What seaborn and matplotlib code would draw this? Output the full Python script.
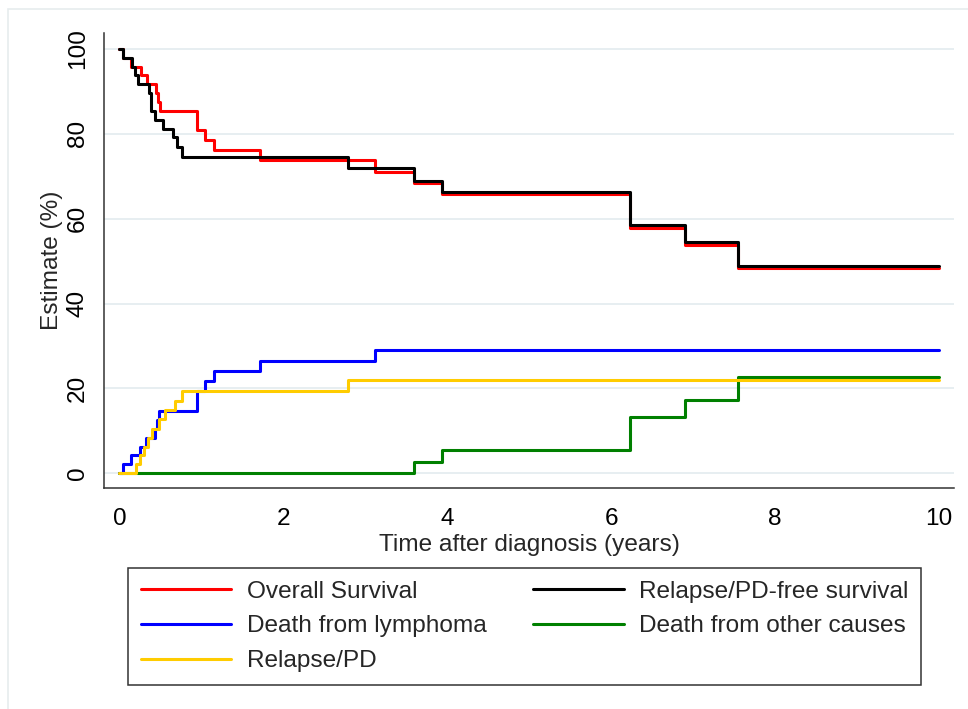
import numpy as np
import pandas as pd
import matplotlib
matplotlib.use("Agg")
import matplotlib.pyplot as plt
from matplotlib.lines import Line2D
from matplotlib.patches import Rectangle
import seaborn as sns

# ---------------- data ----------------
os_time = [0, 0.04, 0.14, 0.26, 0.34, 0.45, 0.47, 0.49, 0.95, 1.05, 1.16, 1.71, 3.12, 3.60, 3.94, 6.23, 6.90, 7.55, 10.0]
os_est = [100, 97.9, 95.8, 93.8, 91.7, 89.6, 87.5, 85.4, 80.9, 78.6, 76.2, 73.8, 71.1, 68.4, 65.8, 57.9, 53.7, 48.4, 48.4]

rfs_time = [0, 0.04, 0.15, 0.19, 0.23, 0.36, 0.39, 0.43, 0.53, 0.65, 0.70, 0.77, 2.79, 3.60, 3.94, 6.23, 6.90, 7.55, 10.0]
rfs_est = [100, 97.9, 95.8, 93.8, 91.7, 89.6, 85.4, 83.3, 81.2, 79.2, 76.9, 74.6, 71.9, 68.9, 66.4, 58.6, 54.4, 48.8, 48.8]

lymph_time = [0, 0.05, 0.14, 0.25, 0.33, 0.44, 0.46, 0.48, 0.95, 1.05, 1.16, 1.71, 3.12, 10.0]
lymph_est = [0, 2.1, 4.2, 6.2, 8.3, 10.4, 12.5, 14.7, 19.3, 21.8, 24.0, 26.4, 29.0, 29.0]

other_time = [0, 3.60, 3.94, 6.23, 6.90, 7.55, 10.0]
other_est = [0, 2.7, 5.5, 13.2, 17.3, 22.7, 22.7]

relapse_time = [0, 0.20, 0.25, 0.30, 0.35, 0.40, 0.48, 0.56, 0.68, 0.77, 2.79, 10.0]
relapse_est = [0, 2.1, 4.2, 6.3, 8.4, 10.5, 12.7, 14.8, 17.0, 19.4, 22.0, 22.0]

labels = ["Overall Survival", "Relapse/PD-free survival", "Death from lymphoma",
          "Death from other causes", "Relapse/PD"]
colors = ["#ff0000", "#000000", "#0000ff", "#008000", "#ffcc00"]

x_ticks = [0, 2, 4, 6, 8, 10]
y_ticks = [0, 20, 40, 60, 80, 100]
x_label = "Time after diagnosis (years)"
y_label = "Estimate (%)"

# ---------------- long table ----------------
series = [(labels[0], os_time, os_est), (labels[1], rfs_time, rfs_est),
          (labels[2], lymph_time, lymph_est), (labels[3], other_time, other_est),
          (labels[4], relapse_time, relapse_est)]
df = pd.concat([pd.DataFrame({"time": t, "estimate": v, "curve": name}) for name, t, v in series],
               ignore_index=True)
palette = dict(zip(labels, colors))

# ---------------- style ----------------
sns.set_style("white")
plt.rcParams["font.family"] = ["Liberation Sans", "DejaVu Sans"]
FS = 17.6

fig = plt.figure(figsize=(9.68, 7.09), dpi=100)
ax = fig.add_axes([0.1078, 0.3113, 0.9855 - 0.1078, 0.953 - 0.3113])

# outer graph-region border (faint)
fig.patches.append(Rectangle((0.0086, -0.2), 1.5, 0.9869 + 0.2, transform=fig.transFigure,
                             fill=False, edgecolor="#e6ecee", linewidth=1.2, zorder=0))

draw_order = [labels[0], labels[2], labels[3], labels[1], labels[4]]
sns.lineplot(data=df, x="time", y="estimate", hue="curve", hue_order=draw_order,
             palette=palette, drawstyle="steps-post", estimator=None,
             linewidth=2.2, legend=False, ax=ax)

ax.set_xlim(-0.183, 10.183)
ax.set_ylim(-3.535, 103.7)
ax.set_xticks(x_ticks)
ax.set_yticks(y_ticks)
ax.set_xticklabels([str(v) for v in x_ticks], fontsize=FS)
ax.set_yticklabels([str(v) for v in y_ticks], fontsize=FS, rotation=90, va="center")

ax.yaxis.grid(True, color="#e5edf0", linewidth=1.3)
ax.xaxis.grid(False)
ax.set_axisbelow(True)

for s in ["top", "right"]:
    ax.spines[s].set_visible(False)
for s in ["left", "bottom"]:
    ax.spines[s].set_color("#333333")
    ax.spines[s].set_linewidth(1.1)

ax.tick_params(axis="both", which="major", direction="out", length=7.2, width=1.0,
               color="#333333", labelcolor="black")
ax.tick_params(axis="x", pad=7)
ax.tick_params(axis="y", pad=4)

ax.set_xlabel(x_label, fontsize=FS, labelpad=3)
ax.set_ylabel(y_label, fontsize=FS)
ax.yaxis.set_label_coords(-0.0486, 0.5)

# legend (column-first order reproduces the 2-column layout)
leg_order = [labels[0], labels[2], labels[4], labels[1], labels[3]]
handles = [Line2D([0], [0], color=palette[n], linewidth=2.2) for n in leg_order]
leg = fig.legend(handles, leg_order, loc="upper left", ncol=2,
                 bbox_to_anchor=(0.1326, 0.1984),
                 fontsize=FS, frameon=True, fancybox=False, framealpha=1,
                 edgecolor="#333333", handlelength=3.7, handletextpad=0.65,
                 borderpad=0.5, labelspacing=0.52, columnspacing=1.9, borderaxespad=0)
leg.get_frame().set_linewidth(1.1)

fig.savefig("out.png", dpi=100)
